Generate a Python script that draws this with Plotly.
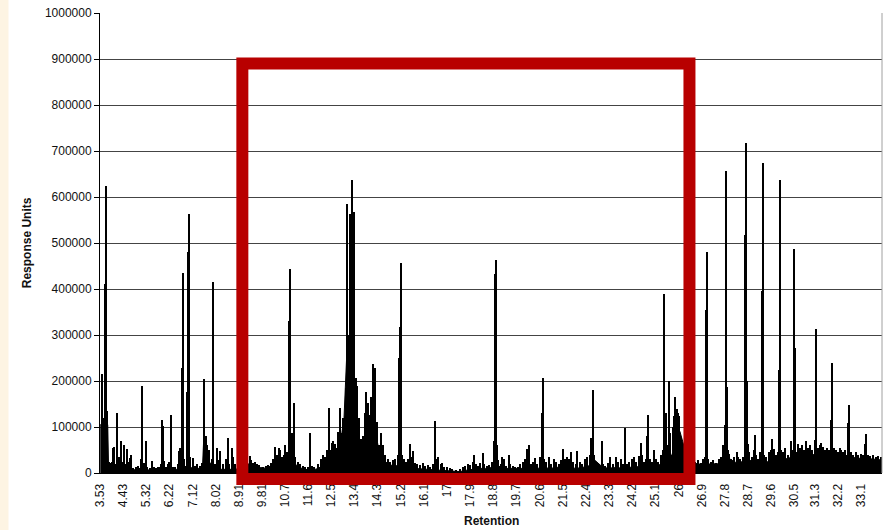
import plotly.graph_objects as go

# Axis tick labels (retention, minutes)
tick_labels = ["3.53", "4.43", "5.32", "6.22", "7.12", "8.02", "8.91", "9.81", "10.7", "11.6",
               "12.5", "13.4", "14.3", "15.2", "16.1", "17", "17.9", "18.8", "19.7", "20.6",
               "21.5", "22.4", "23.3", "24.2", "25.1", "26", "26.9", "27.8", "28.7", "29.6",
               "30.5", "31.3", "32.2", "33.1"]

# Slowly varying baseline of the chromatogram
base_rt = [3.53, 3.82, 3.85, 4.0, 4.25, 4.5, 4.75, 5.0, 5.25, 5.5, 5.75, 6.0, 6.25, 6.5, 6.75,
           7.0, 7.25, 7.5, 7.55, 7.65, 7.75, 8.0, 8.25, 8.5, 8.75, 9.0, 9.3, 9.5, 9.75, 10.0,
           10.25, 10.5, 10.75, 11.0, 11.25, 11.5, 11.75, 12.0, 12.25, 12.5, 12.75, 12.9, 13.0,
           13.1, 13.2, 13.3, 13.4, 13.5, 13.6, 13.75, 13.9, 14.1, 14.2, 14.35, 14.5, 14.75,
           15.0, 15.25, 15.5, 15.75, 16.0, 16.25, 16.5, 16.75, 17.0, 17.25, 17.5, 17.75, 18.0,
           18.25, 18.5, 18.75, 18.9, 19.0, 19.25, 19.5, 19.75, 20.0, 20.25, 20.5, 20.75, 21.0,
           21.25, 21.5, 21.75, 22.0, 22.25, 22.5, 22.7, 23.0, 23.25, 23.5, 23.75, 24.0, 24.25,
           24.5, 24.75, 25.0, 25.25, 25.5, 25.75, 25.9, 26.05, 26.2, 26.5, 26.75, 27.0, 27.25,
           27.5, 27.75, 28.0, 28.25, 28.5, 28.75, 29.0, 29.25, 29.5, 29.75, 30.0, 30.25, 30.5,
           30.75, 31.0, 31.25, 31.5, 31.75, 32.0, 32.25, 32.5, 32.75, 33.0, 33.25, 33.5, 33.75,
           33.95]
base_resp = [105000, 105000, 20000, 15000, 12000, 10000, 8000, 6000, 6000, 7000, 6000, 7000,
             8000, 8000, 12000, 12000, 10000, 10000, 75000, 65000, 25000, 10000, 8000, 8000,
             8000, 10000, 20000, 18000, 12000, 10000, 20000, 25000, 30000, 25000, 12000, 8000,
             6000, 10000, 20000, 35000, 40000, 80000, 120000, 250000, 280000, 250000, 150000,
             80000, 45000, 50000, 90000, 120000, 100000, 50000, 30000, 18000, 15000, 20000,
             12000, 10000, 9000, 8000, 8000, 7000, 6000, 4000, 3000, 6000, 8000, 10000, 10000,
             12000, 40000, 15000, 10000, 10000, 9000, 9000, 10000, 10000, 12000, 10000, 12000,
             14000, 13000, 10000, 12000, 15000, 30000, 15000, 10000, 12000, 11000, 12000, 13000,
             15000, 15000, 14000, 18000, 30000, 40000, 100000, 90000, 60000, 22000, 20000, 18000,
             20000, 20000, 25000, 30000, 22000, 25000, 28000, 22000, 22000, 25000, 25000, 28000,
             32000, 35000, 40000, 38000, 40000, 42000, 40000, 38000, 38000, 36000, 34000, 32000,
             32000, 30000, 28000, 28000]

# Individual peaks: retention time and response
peak_rt = [3.59, 3.62, 3.66, 3.70, 3.73, 3.755, 3.78, 3.81, 3.87, 3.93, 3.98, 4.02, 4.07, 4.13,
           4.20, 4.24, 4.28, 4.32, 4.37, 4.41, 4.45, 4.50, 4.55, 4.58, 4.63, 4.67, 4.71, 4.80,
           4.90, 5.00, 5.06, 5.10, 5.14, 5.20, 5.24, 5.29, 5.35, 5.45, 5.53, 5.60, 5.70, 5.78,
           5.85, 5.90, 5.94, 5.96, 6.02, 6.10, 6.15, 6.22, 6.27, 6.35, 6.45, 6.55, 6.60, 6.64,
           6.72, 6.75, 6.80, 6.85, 6.91, 6.93, 6.97, 7.02, 7.12, 7.20, 7.30, 7.40, 7.48, 7.55,
           7.58, 7.63, 7.68, 7.75, 7.80, 7.88, 7.92, 7.97, 8.05, 8.12, 8.20, 8.28, 8.40, 8.50,
           8.55, 8.63, 8.68, 8.78, 8.90,
           9.33, 9.40, 9.45, 9.55, 9.62, 9.70, 9.85, 9.95, 10.05, 10.15, 10.25, 10.30, 10.40,
           10.48, 10.52, 10.60, 10.68, 10.72, 10.78, 10.85, 10.90, 10.93, 10.98, 11.04, 11.10,
           11.20, 11.30, 11.40, 11.50, 11.60, 11.69, 11.75, 11.85, 12.00, 12.10, 12.18, 12.25,
           12.32, 12.40, 12.45, 12.52, 12.59, 12.65, 12.72, 12.78, 12.83, 12.86, 12.92, 12.98,
           13.06, 13.11, 13.15, 13.20, 13.25, 13.30, 13.33, 13.37, 13.42, 13.47, 13.52, 13.57,
           13.65, 13.72, 13.80, 13.86, 13.92, 13.98, 14.05, 14.13, 14.17, 14.21, 14.27, 14.35,
           14.44, 14.50, 14.58, 14.70, 14.80, 14.90, 15.00, 15.08, 15.15, 15.18, 15.20, 15.25,
           15.32, 15.40, 15.50, 15.58, 15.62, 15.68, 15.75, 15.85, 15.95, 16.05, 16.15, 16.25,
           16.35, 16.45, 16.53, 16.58, 16.65, 16.75, 16.80, 16.90, 17.00, 17.10, 17.20, 17.35,
           17.50, 17.62, 17.70, 17.80, 17.90, 18.00, 18.06, 18.12, 18.20, 18.30, 18.40, 18.45,
           18.55, 18.65, 18.75, 18.82, 18.85, 18.87, 18.91, 18.95, 19.00, 19.08, 19.15, 19.22,
           19.30, 19.40, 19.45, 19.55, 19.65, 19.75, 19.85, 19.95, 20.05, 20.12, 20.20, 20.28,
           20.35, 20.42, 20.50, 20.60, 20.69, 20.73, 20.78, 20.85, 20.95, 21.05, 21.15, 21.25,
           21.35, 21.43, 21.51, 21.58, 21.65, 21.75, 21.82, 21.90, 22.00, 22.05, 22.15, 22.25,
           22.35, 22.45, 22.55, 22.60, 22.64, 22.67, 22.72, 22.80, 22.90, 23.01, 23.08, 23.15,
           23.25, 23.35, 23.45, 23.55, 23.65, 23.75, 23.82, 23.91, 24.00, 24.08, 24.18, 24.25,
           24.35, 24.45, 24.52, 24.58, 24.65, 24.72, 24.78, 24.82, 24.88, 24.95, 25.05, 25.12,
           25.20, 25.30, 25.38, 25.42, 25.45, 25.50, 25.55, 25.60, 25.63, 25.66, 25.72, 25.78,
           25.82, 25.87, 25.92, 25.97, 26.02, 26.08, 26.15,
           26.65, 26.75, 26.85, 26.95, 27.02, 27.07, 27.11, 27.15, 27.25, 27.35, 27.45, 27.55,
           27.65, 27.72, 27.78, 27.82, 27.84, 27.86, 27.90, 27.95, 28.05, 28.15, 28.25, 28.30,
           28.40, 28.50, 28.58, 28.63, 28.65, 28.69, 28.75, 28.85, 28.92, 28.97, 29.02, 29.10,
           29.17, 29.22, 29.27, 29.32, 29.40, 29.50, 29.58, 29.64, 29.70, 29.78, 29.85, 29.90,
           29.93, 29.98, 30.05, 30.15, 30.25, 30.36, 30.42, 30.50, 30.53, 30.58, 30.65, 30.72,
           30.80, 30.88, 30.95, 31.02, 31.10, 31.20, 31.30, 31.33, 31.40, 31.48, 31.55, 31.62,
           31.70, 31.78, 31.85, 31.93, 31.97, 32.02, 32.10, 32.18, 32.25, 32.32, 32.40, 32.48,
           32.55, 32.58, 32.60, 32.68, 32.78, 32.88, 32.98, 33.08, 33.18, 33.25, 33.27, 33.35,
           33.45, 33.55, 33.65, 33.75, 33.85]
peak_resp = [216000, 120000, 110000, 125000, 410000, 625000, 100000, 135000, 25000, 22000,
             24000, 55000, 57000, 20000, 130000, 35000, 20000, 70000, 25000, 15000, 61000,
             20000, 30000, 52000, 25000, 32000, 40000, 10000, 12000, 15000, 10000, 30000,
             190000, 15000, 22000, 70000, 12000, 10000, 27000, 12000, 10000, 14000, 12000,
             20000, 115000, 102000, 27000, 12000, 20000, 25000, 127000, 12000, 14000, 20000,
             47000, 55000, 228000, 435000, 30000, 15000, 177000, 480000, 562000, 35000, 32000,
             15000, 20000, 15000, 22000, 85000, 205000, 80000, 60000, 50000, 20000, 30000,
             415000, 20000, 55000, 28000, 47000, 20000, 30000, 77000, 20000, 55000, 35000,
             20000, 15000,
             38000, 28000, 22000, 25000, 20000, 18000, 12000, 15000, 18000, 22000, 30000, 57000,
             40000, 55000, 50000, 35000, 40000, 60000, 45000, 330000, 444000, 72000, 86000,
             152000, 35000, 25000, 20000, 15000, 12000, 14000, 86000, 15000, 12000, 20000,
             30000, 40000, 35000, 50000, 141000, 50000, 65000, 70000, 62000, 55000, 90000,
             141000, 130000, 86000, 120000, 184000, 585000, 274000, 300000, 562000, 638000,
             333000, 568000, 150000, 207000, 190000, 120000, 73000, 80000, 130000, 177000,
             152000, 127000, 165000, 237000, 160000, 228000, 110000, 60000, 88000, 60000,
             40000, 30000, 25000, 28000, 30000, 40000, 250000, 318000, 457000, 40000, 30000,
             25000, 30000, 62000, 35000, 47000, 22000, 20000, 18000, 22000, 15000, 18000,
             14000, 20000, 112000, 30000, 34000, 20000, 22000, 14000, 12000, 10000, 8000, 6000,
             8000, 12000, 15000, 20000, 18000, 25000, 40000, 20000, 15000, 22000, 44000, 20000,
             15000, 18000, 25000, 70000, 145000, 433000, 463000, 60000, 29000, 20000, 35000,
             30000, 15000, 40000, 20000, 15000, 12000, 14000, 20000, 25000, 30000, 52000,
             61000, 20000, 25000, 32000, 20000, 35000, 130000, 207000, 30000, 25000, 35000,
             20000, 30000, 25000, 20000, 29000, 52000, 30000, 35000, 30000, 45000, 25000,
             20000, 48000, 25000, 20000, 30000, 35000, 40000, 77000, 55000, 180000, 40000,
             25000, 20000, 70000, 20000, 15000, 22000, 34000, 20000, 35000, 25000, 30000,
             20000, 97000, 20000, 25000, 30000, 35000, 25000, 37000, 66000, 40000, 25000,
             30000, 81000, 126000, 30000, 25000, 50000, 30000, 25000, 40000, 50000, 224000,
             389000, 130000, 35000, 60000, 200000, 86000, 40000, 100000, 125000, 165000,
             140000, 130000, 125000, 76000, 60000,
             25000, 28000, 22000, 30000, 35000, 355000, 480000, 30000, 25000, 28000, 22000,
             30000, 35000, 60000, 45000, 104000, 657000, 186000, 50000, 42000, 30000, 35000,
             46000, 35000, 30000, 35000, 517000, 718000, 201000, 64000, 45000, 35000, 50000,
             82000, 40000, 30000, 45000, 396000, 673000, 40000, 35000, 45000, 50000, 73000,
             53000, 40000, 45000, 223000, 638000, 50000, 45000, 55000, 40000, 69000, 50000,
             487000, 272000, 45000, 64000, 55000, 60000, 50000, 70000, 55000, 60000, 50000,
             71000, 313000, 55000, 60000, 65000, 57000, 50000, 55000, 50000, 115000, 240000,
             55000, 50000, 45000, 55000, 50000, 45000, 50000, 40000, 108000, 147000, 45000,
             40000, 45000, 40000, 42000, 40000, 64000, 84000, 40000, 38000, 40000, 35000,
             38000, 35000]

tick_vals = [float(t) for t in tick_labels]

fig = go.Figure()

# baseline envelope
fig.add_trace(go.Scatter(
    x=base_rt, y=base_resp, mode="lines", fill="tozeroy",
    fillcolor="black", line=dict(color="black", width=1),
    hoverinfo="skip", showlegend=False,
))

# peaks as hairline bars
fig.add_trace(go.Bar(
    x=peak_rt, y=peak_resp, width=0.04,
    marker=dict(color="black", line=dict(width=0)),
    showlegend=False,
))

font_main = "Liberation Sans, Arial, sans-serif"

fig.update_layout(
    width=888, height=530,
    margin=dict(l=100, r=6, t=13, b=57),
    paper_bgcolor="white", plot_bgcolor="white",
    font=dict(family=font_main, size=12, color="#111111"),
    bargap=0,
    xaxis=dict(
        range=[3.52, 33.9],
        tickmode="array", tickvals=tick_vals, ticktext=tick_labels,
        tickangle=-90, tickfont=dict(size=12, color="#111111"),
        ticks="outside", ticklen=5, tickcolor="rgba(0,0,0,0)",
        showgrid=False, zeroline=False,
        showline=True, linecolor="black", linewidth=1,
    ),
    yaxis=dict(
        range=[0, 1000000],
        tickmode="array",
        tickvals=[i * 100000 for i in range(11)],
        ticktext=[str(i * 100000) for i in range(11)],
        tickfont=dict(size=12, color="#111111"),
        ticks="outside", ticklen=5, tickcolor="black",
        showgrid=True, gridcolor="#444444", gridwidth=1,
        zeroline=False,
        showline=True, linecolor="black", linewidth=1,
    ),
    annotations=[
        dict(text="<b>Response Units</b>", textangle=-90,
             xref="paper", yref="paper", x=-0.093, y=0.5,
             xanchor="center", yanchor="middle", showarrow=False,
             font=dict(size=12, color="#111111")),
        dict(text="<b>Retention</b>",
             xref="paper", yref="paper", x=0.5, y=-0.104,
             xanchor="center", yanchor="middle", showarrow=False,
             font=dict(size=12, color="#111111")),
    ],
    shapes=[
        # cream page edge
        dict(type="rect", xref="paper", yref="paper",
             x0=-0.128, x1=-0.117, y0=-0.125, y1=1.03,
             fillcolor="#fdf4e3", line=dict(width=0), layer="below"),
        # right border of plot area
        dict(type="line", xref="paper", yref="paper",
             x0=1, x1=1, y0=0, y1=1,
             line=dict(color="#a0a0a0", width=1)),
        # highlight box
        dict(type="rect", xref="x", yref="paper",
             x0=9.05, x1=26.42, y0=-0.013, y1=0.890,
             line=dict(color="#b80000", width=12),
             fillcolor="rgba(0,0,0,0)", layer="above"),
    ],
)

fig.write_html("out.html")
